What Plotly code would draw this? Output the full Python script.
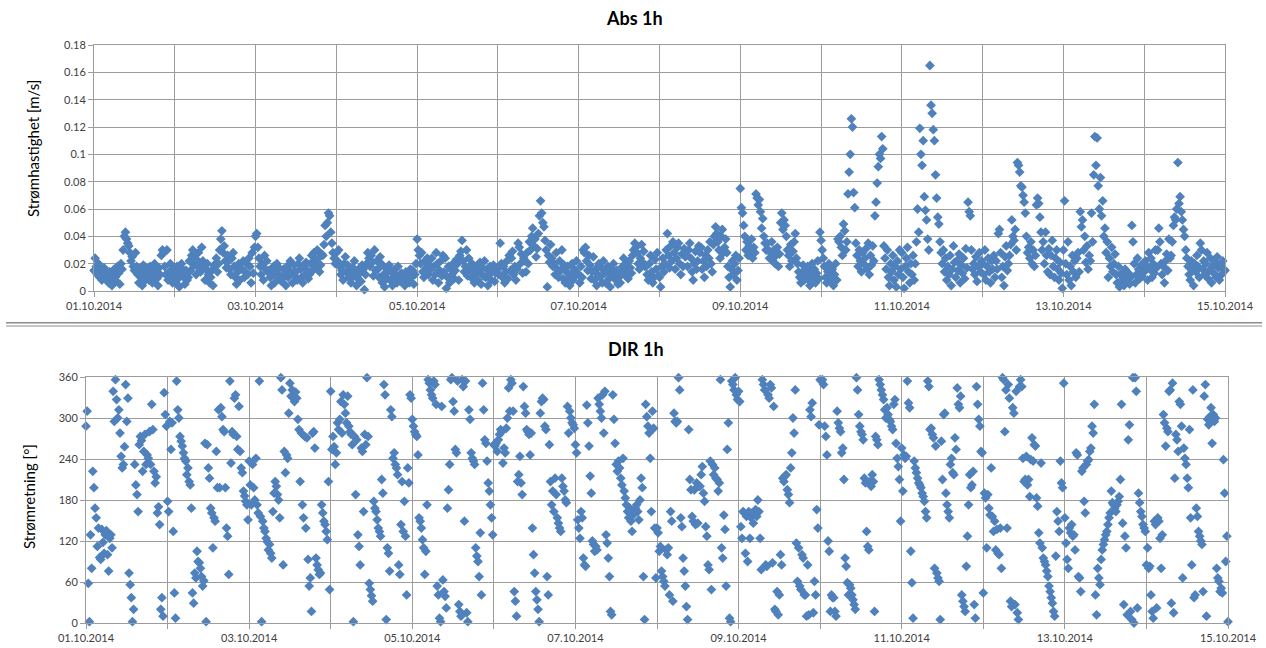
import pandas as pd
import plotly.graph_objects as go

# ---------------- data (20-minute samples, 72 per day) ----------------
abs_d01 = [.015,.024,.018,.012,.020,.010,.016,.008,.013,.017,.009,.014,
           .011,.006,.014,.009,.004,.012,.016,.010,.007,.018,.013,.005,
           .020,.016,.030,.040,.043,.038,.035,.033,.028,.022,.025,.018,
           .015,.028,.018,.012,.006,.016,.010,.004,.019,.013,.008,.015,
           .012,.008,.018,.014,.006,.011,.020,.015,.009,.004,.017,.012,
           .026,.030,.028,.018,.012,.030,.008,.014,.020,.010,.006,.016]
abs_d02 = [.012,.006,.018,.009,.003,.014,.020,.016,.010,.005,.015,.008,
           .010,.022,.015,.026,.030,.019,.024,.012,.018,.028,.021,.014,
           .032,.022,.018,.008,.016,.020,.012,.006,.010,.015,.004,.019,
           .018,.024,.014,.020,.030,.038,.044,.028,.033,.022,.017,.026,
           .022,.016,.012,.024,.028,.018,.010,.005,.014,.020,.008,.016,
           .016,.022,.010,.014,.020,.012,.024,.018,.006,.028,.013,.032]
abs_d03 = [.040,.042,.032,.024,.018,.012,.020,.008,.026,.016,.022,.014,
           .015,.010,.004,.012,.018,.006,.014,.020,.009,.017,.011,.007,
           .009,.016,.012,.004,.018,.010,.015,.022,.013,.006,.019,.011,
           .014,.008,.020,.024,.016,.010,.006,.018,.012,.021,.015,.009,
           .012,.020,.026,.015,.028,.022,.018,.030,.024,.014,.019,.027,
           .026,.034,.048,.040,.050,.057,.055,.043,.035,.028,.024,.020]
abs_d04 = [.028,.022,.030,.018,.012,.015,.008,.020,.025,.014,.019,.010,
           .014,.006,.010,.017,.022,.012,.004,.009,.016,.013,.007,.019,
           .016,.001,.012,.020,.028,.024,.018,.026,.021,.011,.030,.015,
           .022,.016,.010,.025,.020,.006,.012,.003,.017,.009,.014,.019,
           .008,.014,.004,.010,.016,.012,.006,.018,.011,.007,.013,.009,
           .010,.004,.014,.008,.012,.006,.016,.010,.015,.005,.012,.020]
abs_d05 = [.038,.030,.026,.020,.028,.014,.010,.022,.017,.024,.012,.019,
           .016,.024,.008,.018,.012,.028,.020,.006,.015,.022,.011,.026,
           .014,.024,.002,.010,.018,.006,.016,.012,.020,.009,.015,.023,
           .020,.008,.026,.029,.037,.022,.014,.018,.030,.011,.024,.016,
           .010,.020,.015,.006,.012,.018,.008,.014,.021,.005,.017,.011,
           .022,.010,.016,.004,.012,.018,.008,.014,.019,.007,.013,.016]
abs_d06 = [.016,.012,.035,.020,.010,.018,.006,.014,.022,.009,.026,.015,
           .024,.029,.012,.018,.008,.016,.035,.032,.020,.027,.013,.024,
           .022,.014,.028,.020,.036,.030,.040,.046,.033,.038,.025,.031,
           .042,.055,.066,.057,.050,.047,.037,.030,.003,.026,.021,.034,
           .024,.018,.020,.012,.028,.016,.010,.022,.015,.030,.009,.019,
           .006,.014,.018,.010,.004,.012,.020,.008,.016,.011,.022,.013]
abs_d07 = [.012,.006,.018,.010,.030,.028,.032,.022,.015,.026,.019,.009,
           .014,.025,.008,.016,.004,.012,.020,.010,.017,.006,.022,.013,
           .006,.014,.018,.009,.003,.012,.016,.020,.011,.008,.015,.005,
           .010,.006,.014,.018,.024,.012,.020,.015,.009,.022,.017,.013,
           .026,.030,.035,.032,.028,.020,.016,.024,.034,.021,.029,.018,
           .018,.012,.008,.020,.026,.014,.006,.010,.023,.016,.028,.011]
abs_d08 = [.010,.003,.018,.024,.014,.020,.030,.042,.026,.017,.033,.022,
           .036,.028,.016,.024,.032,.035,.020,.012,.027,.018,.031,.025,
           .026,.018,.030,.035,.024,.014,.008,.020,.029,.016,.022,.033,
           .028,.032,.016,.022,.010,.026,.018,.030,.024,.036,.020,.014,
           .034,.040,.047,.042,.036,.030,.024,.040,.045,.028,.032,.038,
           .028,.018,.010,.003,.016,.022,.012,.020,.026,.008,.015,.024]
abs_d09 = [.075,.061,.057,.048,.040,.030,.036,.026,.033,.028,.038,.024,
           .032,.028,.071,.068,.063,.067,.058,.046,.053,.040,.035,.030,
           .035,.030,.024,.028,.036,.022,.030,.020,.026,.032,.018,.027,
           .050,.057,.045,.052,.048,.040,.030,.026,.018,.034,.022,.029,
           .036,.042,.024,.020,.014,.010,.006,.012,.019,.008,.016,.011,
           .018,.008,.004,.014,.020,.010,.016,.006,.013,.022,.009,.043]
abs_d10 = [.037,.030,.024,.018,.010,.006,.014,.020,.012,.008,.016,.004,
           .012,.020,.008,.038,.036,.040,.032,.026,.049,.044,.030,.036,
           .071,.087,.100,.126,.120,.072,.061,.035,.026,.018,.030,.022,
           .014,.028,.020,.024,.031,.016,.035,.012,.026,.019,.033,.022,
           .055,.065,.079,.091,.100,.097,.113,.104,.033,.024,.016,.030,
           .010,.004,.020,.014,.026,.008,.018,.003,.022,.012,.030,.016]
abs_d11 = [.028,.010,.002,.018,.024,.032,.014,.006,.020,.012,.026,.008,
           .020,.036,.060,.043,.119,.100,.092,.110,.069,.059,.052,.038,
           .030,.165,.136,.130,.118,.110,.085,.068,.054,.049,.036,.028,
           .020,.030,.014,.024,.008,.018,.012,.026,.004,.016,.033,.021,
           .010,.022,.015,.027,.006,.019,.013,.024,.009,.031,.017,.065,
           .058,.055,.030,.016,.020,.012,.025,.007,.018,.028,.014,.022]
abs_d12 = [.020,.012,.030,.008,.018,.024,.014,.006,.022,.016,.026,.010,
           .022,.016,.042,.045,.028,.010,.018,.004,.025,.033,.015,.020,
           .026,.034,.052,.040,.037,.045,.030,.094,.092,.087,.077,.076,
           .070,.065,.057,.040,.028,.032,.024,.036,.020,.030,.018,.026,
           .063,.068,.064,.054,.043,.030,.036,.020,.043,.026,.014,.031,
           .012,.026,.037,.018,.010,.024,.030,.016,.008,.021,.013,.002]
abs_d13 = [.030,.066,.020,.012,.036,.008,.018,.004,.026,.014,.022,.010,
           .024,.028,.014,.058,.047,.052,.030,.040,.021,.033,.016,.026,
           .022,.057,.036,.085,.113,.092,.112,.077,.060,.083,.055,.066,
           .040,.046,.028,.036,.010,.024,.018,.032,.014,.020,.027,.012,
           .006,.018,.003,.012,.008,.014,.004,.016,.010,.007,.013,.005,
           .010,.048,.036,.020,.006,.012,.024,.016,.009,.019,.011,.015]
abs_d14 = [.014,.022,.018,.008,.028,.016,.024,.010,.020,.013,.030,.017,
           .030,.046,.036,.020,.012,.018,.006,.022,.027,.015,.038,.024,
           .026,.036,.048,.054,.052,.060,.094,.064,.069,.058,.052,.045,
           .040,.030,.024,.018,.012,.008,.022,.016,.004,.020,.014,.026,
           .018,.010,.035,.030,.016,.022,.012,.020,.028,.009,.015,.024,
           .006,.018,.013,.021,.010,.025,.017,.008,.019,.012,.022,.016]
abs_end = [.015]

dir_d01 = [288,310,58,2,129,80,222,198,168,154,112,139,96,93,137,118,102,129,135,100,
           76,124,129,110,339,295,356,327,300,312,278,244,227,232,258,349,295,329,73,56,
           37,2,20,232,202,188,163,261,273,267,222,251,276,232,246,241,280,232,320,283,
           222,205,214,161,170,144,20,37,10,337,305,288]
dir_d02 = [178,163,295,254,293,134,44,7,354,312,300,273,266,259,249,241,237,217,227,207,
           202,168,44,29,73,66,105,90,88,80,68,54,62,263,2,261,227,212,168,161,
           110,154,149,251,198,312,198,315,302,283,280,198,139,127,71,354,234,280,276,329,
           334,273,254,317,251,227,220,193,186,178,173,151]
dir_d03 = [237,202,173,232,198,180,241,173,161,354,156,2,149,139,134,124,119,107,115,102,
           95,163,190,207,200,188,180,154,359,341,85,251,220,246,241,307,351,332,341,329,
           324,338,329,298,283,207,278,173,154,273,139,271,93,54,66,17,278,280,256,95,
           85,78,71,73,173,161,149,144,134,122,207,49]
dir_d04 = [339,254,273,258,232,249,293,283,298,324,278,
           334,320,307,293,332,288,280,276,261,2,
           273,188,268,129,112,85,256,251,163,276,261,359,
           273,58,49,40,32,178,168,163,151,
           139,134,127,210,190,349,334,5,110,102,76,312,302,241,249,232,227,217,85,71,
           144,207,134,178,127,41,227,205,334,329]
dir_d05 = [298,288,280,276,273,246,154,149,139,122,110,71,105,173,356,351,341,334,329,354,
           349,320,54,41,7,2,317,63,46,39,22,168,195,232,356,359,324,310,254,249,
           354,27,17,10,356,346,149,354,15,2,312,298,249,241,237,232,110,98,90,68,
           132,41,351,312,268,263,237,205,193,173,154,129]
dir_d06 = [261,259,263,251,268,276,283,280,234,256,249,285,300,344,310,356,351,310,46,32,
           10,207,217,244,205,188,346,317,307,283,280,276,246,278,139,100,73,46,34,20,
           2,307,324,329,327,288,283,68,41,261,207,173,193,163,212,188,154,146,139,134,
           212,200,193,180,176,317,278,310,300,293,290,285]
dir_d07 = [261,249,151,139,124,163,154,95,85,83,319,293,259,215,190,120,115,105,112,107,
           329,320,310,300,334,278,339,129,117,95,68,17,12,334,298,263,232,222,237,227,
           212,202,241,193,183,173,163,154,168,149,134,158,163,168,173,163,151,180,212,198,
           68,5,320,302,288,278,241,163,310,285,139,66]
dir_d08 = [139,132,105,112,76,68,61,54,107,100,110,41,163,149,32,307,295,293,295,359,
           341,154,141,95,76,54,24,5,283,210,195,156,149,195,144,205,146,200,200,217,
           229,190,178,141,127,85,78,237,49,232,217,227,212,210,193,205,356,110,95,158,
           137,54,254,293,7,2,354,349,341,359,334,327]
dir_d09 = [339,324,141,124,163,161,102,156,90,163,124,154,161,146,163,166,156,180,163,124,
           78,356,349,341,85,83,334,329,349,344,88,317,20,17,46,12,41,100,85,212,
           207,215,217,195,188,176,227,249,300,278,341,117,61,110,54,49,100,95,41,41,
           10,85,12,312,302,322,15,61,41,166,139,290]
dir_d10 = [356,354,356,349,288,273,246,120,105,17,41,37,37,17,10,310,293,285,280,249,
           256,210,95,83,59,41,56,51,41,34,27,20,359,341,305,288,280,276,268,212,
           205,134,112,107,207,200,217,207,17,273,268,261,356,349,341,334,327,312,300,315,
           305,298,295,288,283,320,327,263,241,229,210,149]
dir_d11 = [256,193,246,241,244,354,322,315,105,59,7,237,227,220,212,205,202,198,190,
           185,178,163,154,354,346,283,285,276,271,80,259,73,66,61,5,266,210,305,
           307,190,173,163,154,232,241,220,217,271,254,344,320,315,332,41,32,24,17,83,
           127,173,217,198,202,222,27,7,346,320,298,288,251,249]
dir_d12 = [44,190,183,110,188,168,158,227,156,134,149,107,137,102,100,139,80,359,356,280,
           341,139,349,329,32,24,315,307,27,339,15,5,346,356,346,241,207,210,244,202,
           210,185,239,271,237,261,259,183,171,132,117,234,110,95,90,85,76,68,54,46,
           37,29,17,10,98,163,149,134,237,205,198,351]
dir_d13 = [154,117,93,80,139,132,144,127,129,107,249,246,68,66,46,222,227,178,161,232,
           237,239,251,256,288,278,320,41,12,80,66,56,93,107,115,122,129,134,144,154,
           161,193,176,173,168,163,173,178,185,210,320,146,27,127,110,12,268,290,17,5,
           359,0,359,339,22,190,176,163,156,144,139,134]
dir_d14 = [85,110,80,83,41,17,7,149,144,22,154,149,124,80,129,305,293,259,285,280,
           339,341,29,351,15,212,276,268,251,324,320,288,66,256,241,232,212,198,283,154,
           85,341,37,41,168,156,134,127,120,115,46,332,349,10,298,290,302,315,263,305,
           295,300,80,66,61,46,51,44,239,190,90,127]
dir_end = [2]

tick_days = [f"2014-10-{d:02d}" for d in range(1, 16)]
tick_labels = ["01.10.2014", "", "03.10.2014", "", "05.10.2014", "", "07.10.2014", "",
               "09.10.2014", "", "11.10.2014", "", "13.10.2014", "", "15.10.2014"]

abs_vals = (abs_d01 + abs_d02 + abs_d03 + abs_d04 + abs_d05 + abs_d06 + abs_d07 +
            abs_d08 + abs_d09 + abs_d10 + abs_d11 + abs_d12 + abs_d13 + abs_d14 + abs_end)
dir_vals = (dir_d01 + dir_d02 + dir_d03 + dir_d04 + dir_d05 + dir_d06 + dir_d07 +
            dir_d08 + dir_d09 + dir_d10 + dir_d11 + dir_d12 + dir_d13 + dir_d14 + dir_end)

t_abs = pd.date_range("2014-10-01", "2014-10-15", periods=len(abs_vals))
t_dir = pd.date_range("2014-10-01", "2014-10-15", periods=len(dir_vals))

# ---------------- figure ----------------
W, H = 1266, 648
BLUE = "#4F81BD"
GRID = "#9c9c9c"
FONT = "Lato, 'Open Sans', sans-serif"
TXT = "#404040"

def px_x(p):
    return p / W

def px_y(p):
    return 1 - p / H

fig = go.Figure()
fig.add_trace(go.Scatter(x=t_abs, y=abs_vals, mode="markers", xaxis="x", yaxis="y",
                         marker=dict(symbol="diamond", size=7.5, color=BLUE),
                         cliponaxis=False, showlegend=False))
fig.add_trace(go.Scatter(x=t_dir, y=dir_vals, mode="markers", xaxis="x2", yaxis="y2",
                         marker=dict(symbol="diamond", size=7.5, color=BLUE),
                         cliponaxis=False, showlegend=False))

xcommon = dict(type="date", range=["2014-10-01", "2014-10-15"],
               tickmode="array", tickvals=tick_days, ticktext=tick_labels,
               showgrid=True, gridcolor=GRID, gridwidth=1,
               ticks="outside", ticklen=5, tickcolor=GRID,
               showline=True, linecolor=GRID, mirror=True, zeroline=False,
               automargin=False,
               tickfont=dict(family=FONT, size=11, color=TXT), fixedrange=True)
ycommon = dict(showgrid=True, gridcolor=GRID, gridwidth=1,
               ticks="outside", ticklen=5, tickcolor=GRID,
               showline=True, linecolor=GRID, mirror=True, zeroline=False,
               automargin=False,
               tickfont=dict(family=FONT, size=11, color=TXT), fixedrange=True)

ann = dict(xref="paper", yref="paper", showarrow=False, xanchor="center", yanchor="middle")

fig.update_layout(
    width=W, height=H, autosize=False,
    margin=dict(l=0, r=0, t=0, b=0, pad=0),
    paper_bgcolor="white", plot_bgcolor="white",
    font=dict(family=FONT, color=TXT),
    xaxis=dict(xcommon, domain=[px_x(94), px_x(1225)], anchor="y"),
    yaxis=dict(ycommon, domain=[px_y(291), px_y(45)], anchor="x",
               range=[0, 0.18], tick0=0, dtick=0.02),
    xaxis2=dict(xcommon, domain=[px_x(86), px_x(1228)], anchor="y2"),
    yaxis2=dict(ycommon, domain=[px_y(623), px_y(377)], anchor="x2",
                range=[0, 360], tick0=0, dtick=60),
    annotations=[
        dict(ann, text="<b>Abs 1h</b>", x=px_x(634), y=px_y(18),
             font=dict(family=FONT, size=18, color="#000000")),
        dict(ann, text="<b>DIR 1h</b>", x=px_x(636), y=px_y(349),
             font=dict(family=FONT, size=18, color="#000000")),
        dict(ann, text="Strømhastighet [m/s]", x=px_x(33), y=px_y(149), textangle=-90,
             font=dict(family=FONT, size=15, color="#000000")),
        dict(ann, text="Strømretning [°]", x=px_x(29), y=px_y(497), textangle=-90,
             font=dict(family=FONT, size=15, color="#000000")),
    ],
    shapes=[
        dict(type="line", xref="paper", yref="paper", x0=px_x(6), x1=px_x(1262),
             y0=px_y(322.7), y1=px_y(322.7), line=dict(color="#8c8c8c", width=1.5)),
        dict(type="line", xref="paper", yref="paper", x0=px_x(6), x1=px_x(1262),
             y0=px_y(326), y1=px_y(326), line=dict(color="#b4b4b4", width=1.5)),
    ],
)

fig.write_html("out.html", config={"displayModeBar": False, "staticPlot": True},
               post_script="document.body.style.margin='0';document.body.style.padding='0';")
